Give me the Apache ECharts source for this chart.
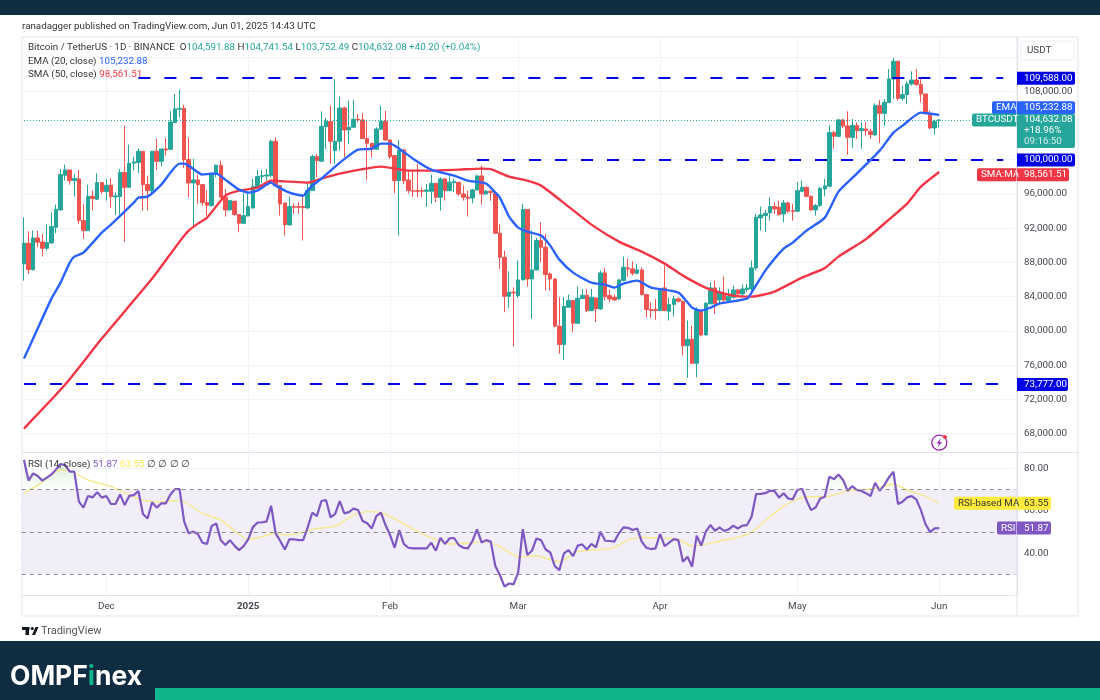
<!DOCTYPE html>
<html>
<head>
<meta charset="utf-8">
<style>
  html, body { margin: 0; padding: 0; background: #fff; }
  #chart-container { width: 1100px; height: 700px; }
</style>
<script src="https://cdn.jsdelivr.net/npm/echarts@6/dist/echarts.min.js"></script>
</head>
<body>
<div id="chart-container"></div>
<script>
// Daily candles from 13 Nov 2024
const opens = [
  87817,90231,87156,90854,90387,89648,90270,92100,94124,98173,
  98796,97550,97745,92878,91710,95720,95370,97316,96265,97005,
  95642,95681,98484,96771,99574,99652,100976,97083,96382,100976,
  99808,101248,101209,104324,105881,105998,100003,97277,97628,97083,
  94981,94630,98407,99341,95604,94124,95136,93579,92567,93423,
  94358,96771,98017,98095,98134,102144,96966,94942,92372,94513,
  94513,94513,94358,96382,100353,99808,103857,104479,101054,102144,
  106037,103467,103779,104713,104635,102455,101910,101209,103545,104479,
  102299,100470,97550,101132,97628,96382,96382,96382,96304,96304,
  97239,95604,97745,96382,97316,97355,95993,95604,95526,96460,
  98095,95993,96304,96070,91399,88596,84042,84509,84120,85949,
  94163,86066,87117,90543,89764,86650,86066,80538,78396,82756,
  83535,80888,83769,84158,82367,83847,82562,86767,84120,83924,
  83730,85871,87351,87234,86728,87117,84236,82484,82484,82367,
  85014,82289,83068,83730,83457,78280,79019,76216,82367,79525,
  83146,85015,83613,84392,83535,83925,84782,84314,84820,84898,
  87351,93190,93463,93774,94514,94436,93657,94942,94046,93969,
  96304,96772,95720,94124,94630,96577,96889,103156,102728,104636,
  103935,102611,103974,103390,103584,103312,102884,106310,105414,106660,
  109424,111487,107166,107594,108840,109307,108762,107672,105414,103701,
  104591.88
];
const closes = [
  90231,87156,90854,90348,89648,90309,92178,94202,98251,98796,
  97550,97784,92878,91710,95720,95448,97316,96265,97005,95681,
  95759,98484,96771,99574,99730,100976,97083,96382,100976,99808,
  101248,101132,104402,105920,105998,100003,97277,97628,97083,94981,
  94669,98407,99341,95604,94124,95214,93579,92567,93462,94513,
  96849,98017,98134,98212,102144,96966,94825,92411,94513,94435,
  94435,94396,96382,100353,99886,103896,104479,102144,102144,106037,
  103467,103779,104713,104635,102455,101910,101209,103584,104479,102299,
  100353,97550,101054,97550,96382,96304,96304,96304,96460,97239,
  95604,97745,96382,97355,97433,95993,95604,95487,96460,98095,
  95993,96304,96148,91399,88596,84042,84509,84431,85949,94163,
  86066,87117,90543,89764,86572,86066,80538,78396,82835,83535,
  80888,83808,84158,82367,83924,82562,86767,84002,83730,83613,
  85949,87428,87234,86728,87117,84236,82484,82367,82367,84898,
  82367,83068,83730,83457,78280,79019,76216,82367,79525,83224,
  85015,83146,84509,83613,84002,84782,84314,84898,85015,87351,
  93268,93541,93735,94514,94241,93579,94942,93969,93930,96382,
  96772,95720,94124,94630,96655,96928,103156,102728,104636,103935,
  102611,103974,103390,103623,103390,102923,106310,105414,106699,109424,
  111487,107166,107594,108840,109307,108762,107672,105414,103701,104441,
  104632.08
];
const lows = [
  85871,86650,87039,89764,88674,89375,90153,91399,94046,97550,
  97083,95681,92489,90737,91710,94046,95292,95993,95214,94358,
  93501,93579,90387,96771,98718,98407,94046,94046,95993,98796,
  99185,100470,101132,104324,104947,99029,95604,92178,94825,94630,
  93462,94513,97939,95604,93345,94046,93462,91516,92489,93345,
  94241,96577,97239,97550,97939,96966,93462,91126,92372,93657,
  93657,90543,94241,96382,97939,99808,101248,99497,99497,101054,
  100275,101832,103779,104363,102416,97628,100275,101132,103545,102221,
  100081,96071,91127,97161,96071,95682,95604,95604,94513,94825,
  95020,94046,95215,96304,96187,95798,95215,93346,94903,96382,
  94747,95915,95215,91321,87234,82173,82679,78163,83847,85949,
  85170,81394,87039,88012,84703,84703,80421,77306,76605,82756,
  79837,80810,83730,82173,82289,81005,82445,83535,83341,83535,
  83652,85793,86338,86455,86572,84120,81589,81511,81277,82289,
  82289,81199,81667,83341,77112,74504,76138,74582,79331,79448,
  83146,81978,83146,83341,83341,83730,83925,84119,84509,84703,
  87039,91711,91516,92879,93657,93463,92684,93735,92879,93852,
  96188,95604,94046,93463,94514,95720,96889,101249,102611,103701,
  100587,101365,102417,101249,102806,102417,102806,101949,103974,106660,
  107088,106894,106894,106504,108645,108645,106699,105259,103584,102923,
  103752.49
];
const highs = [
  93268,91633,91710,91710,91321,92411,93852,94747,98913,99419,
  98796,98329,98796,94825,97083,96382,98407,97316,97706,97862,
  96187,98913,103973,101754,100353,101287,100976,98134,100976,102416,
  101248,102533,105647,107672,108178,106426,102611,100081,98251,97160,
  96382,98407,99419,99886,96577,95214,95214,93657,96071,96071,
  97745,98796,98796,98913,102299,102611,96966,94942,95681,94903,
  95020,95798,97160,100587,100665,105647,104869,106309,109400,107360,
  106192,106893,106971,105336,105414,104635,101910,103779,106309,105725,
  102299,100470,102300,101249,98718,98796,99497,96771,97161,98251,
  97239,97939,97862,98329,97745,97355,96966,96382,96577,98251,
  99302,96460,96382,96148,92411,89375,86961,85092,88207,94825,
  94163,91711,90854,92684,91321,86844,86066,83924,83924,84236,
  83535,85170,84898,84859,84898,83847,87039,87351,84781,84236,
  86066,88674,88401,88129,87817,87428,84314,83341,83730,85014,
  87623,83924,84120,83924,83535,81199,80616,82756,82445,83341,
  85677,85871,85093,86339,84898,85288,84898,85405,85482,88207,
  93657,94514,94124,95604,95020,95214,95292,95098,94825,97356,
  97550,96850,95798,94825,96772,97745,103974,103390,104752,104752,
  105648,104752,104363,104363,104363,103584,106582,106971,107088,110592,
  111877,111565,108645,109152,110319,110592,109619,107672,105725,104636,
  104741.54
];

// Moving averages as [candle index, value], read where the curve could be read
const ema20 = [
  [0,76758],[2,79094],[6,83766],[8,85635],[10,87971],[11,88672],[13,89139],[17,91475],[19,92410],
  [24,94979],[25,95563],[27,95680],[30,97082],[34,99534],[35,99534],[36,99300],[39,98250],[41,98366],
  [42,98366],[44,97666],[47,96498],[49,96147],[51,96381],[54,97315],[55,96965],[58,96147],[61,95797],
  [62,96381],[63,96965],[65,97782],[68,99184],[71,100469],[73,101170],[76,101286],[78,101870],[80,101870],
  [82,101286],[85,100118],[89,98834],[94,98133],[97,97549],[101,97198],[103,96147],[104,95563],[106,93344],
  [108,92059],[110,91592],[113,91125],[115,89957],[117,88322],[120,86803],[124,85635],[127,85401],[129,85051],
  [131,85518],[134,85869],[137,85051],[143,84467],[146,82715],[148,82365],[150,82715],[152,83182],[158,83766],
  [159,84467],[162,87037],[166,89606],[168,90307],[171,91709],[175,93227],[178,96264],[182,98366],[187,101053],
  [190,103155],[192,103973],[196,105491],[198,105374],[200,105232.88]
];
const sma50 = [
  [0,68582],[9,73722],[17,79094],[28,86102],[34,90424],[36,91709],[38,92526],[40,93227],[44,95797],
  [47,96381],[51,96731],[54,97549],[58,97432],[62,97315],[65,97782],[69,98366],[74,98892],[78,99184],
  [84,98717],[89,98717],[95,98834],[100,98950],[102,98892],[106,98016],[110,97549],[113,96965],[119,94512],
  [124,92410],[130,90424],[135,89256],[140,87854],[144,86453],[148,85285],[150,84818],[155,84117],[159,84000],
  [164,84584],[170,86219],[175,87329],[178,88672],[184,90716],[189,92994],[193,94862],[196,96848],[200,98561.51]
];
const rsi14 = [
  83.9,74.2,77.6,76.4,74.2,75.6,77.1,79.5,82,81.5,
  78.4,78.4,64.3,61.5,67,66.3,68.8,66.2,67,63.2,
  63.2,67.7,62.7,67,67.4,69.3,58.5,56.4,64,61.5,
  63.5,63.5,67.7,70.2,70.2,54.9,49.4,50.2,49.1,45,
  44.4,52.8,54.1,46.2,43.9,46.2,43.6,41.5,43.4,46.6,
  52.2,54.4,54.6,54.9,62.4,49.4,45.8,41.8,46.6,46.6,
  46.2,46.2,52.2,59.1,57.5,64.6,65.1,56.9,58.5,64.6,
  58.8,59.4,61,60.4,55.2,54.1,51.7,57.5,59.1,53.3,
  48.6,42.6,50.9,44.4,42.6,42.3,42.3,42.3,42.3,45,
  41.2,47.3,44.4,47,47.2,43.9,42.6,42.3,45.8,51.3,
  45.1,46.2,45.5,34,29.8,24.3,25.8,25.4,31,51.4,
  39.2,41.2,47,46.2,41.8,40.4,34,32.1,40,41.5,
  38.7,43.6,44.2,41.8,44.4,42.8,50.2,45.9,45.8,45.5,
  49.4,52.2,52,51,51.7,45.5,42.6,42,42.3,49.1,
  43.4,45,46.7,46.2,36,38.4,33.7,48.3,43.6,50.2,
  53.3,50.6,52.2,50.5,51.3,53,51.7,53,53.3,57.2,
  67.9,68,68.3,69.4,69.4,66.2,68.3,65.8,65.4,69.8,
  70.4,65,60.3,61.6,65.8,66.6,76,74.9,77.1,74.5,
  69.4,71.6,69.8,69.3,68.3,66.9,73.2,69.4,72.1,75.7,
  78.4,63.2,64.3,66.3,66.9,65.4,60.3,53.8,50,51.7,
  51.87
];
const rsiMa = [
  [0,68.2],[3,72.1],[8,79.2],[10,78.9],[14,74.5],[19,71.5],[22,68.5],[26,65],[30,64.3],[34,64.9],
  [39,58.8],[43,55.7],[46,50.5],[49,46.6],[52,47.8],[55,49.7],[57,48.6],[60,49.4],[64,51.7],[68,52.8],
  [72,58],[75,59.6],[78,59.1],[82,55.2],[86,50.2],[89,47.3],[93,44.4],[97,44.7],[101,45.5],[104,43.1],
  [108,38.4],[112,38.7],[117,36],[121,40.8],[126,41.8],[129,42.8],[132,46.2],[135,47.5],[139,47.3],[143,46.6],
  [146,43.4],[150,44.7],[153,46.2],[156,47.5],[159,49.9],[163,57.2],[167,63.5],[171,66.6],[175,66.6],[180,69.4],
  [186,70.5],[190,72.6],[193,69.8],[197,66.9],[200,63.55]
];

// Horizontal levels and axis ticks
const levelPrices = [109588, 100000, 73777];
const levelStarts = [25, 99, 0];
const priceTicks = [68000,72000,76000,80000,84000,88000,92000,96000,100000,104000,108000,112000];
const rsiTicks = [40, 60, 80];
const rsiBands = [70, 50, 30];
const monthTicks = [18, 49, 80, 108, 139, 169, 200];
const monthNames = ['Dec', '2025', 'Feb', 'Mar', 'Apr', 'May', 'Jun'];

const lastPrice = 104632.08, lastEma = 105232.88, lastSma = 98561.51, lastRsi = 51.87, lastRsiMa = 63.55;

// One category per day, the chart runs 16 days past the last candle
const dates = [];
for (let i = 0; i < 217; i++) {
    dates.push(new Date(Date.UTC(2024, 10, 13 + i)).toISOString().slice(0, 10));
}

const UP = '#26a69a', DOWN = '#ef5350', BLUE = '#2962ff', LEVEL = '#0000e6', RED = '#f23645';
const PURPLE = '#7e57c2', YELLOW = '#ffeb3b', GRID = '#f0f3fa', EDGE = '#e0e3eb', TEXT = '#434651';
const FONT = 'Roboto';
const SIZE = 9.8;

const container = echarts.init(document.getElementById('chart-container'));

const isMonth = (i) => monthTicks.includes(i);
const splitX = { show: true, alignWithLabel: true, interval: (i) => isMonth(i), lineStyle: { color: GRID } };

const candles = opens.map((o, i) => [o, closes[i], lows[i], highs[i]]);

const cfg = {
    animation: false,
    backgroundColor: '#fff',
    grid: [
        { left: 21.7, top: 37, width: 993, height: 415 },
        { left: 21.7, top: 453, width: 993, height: 142 }
    ],
    xAxis: [
        {
            type: 'category', gridIndex: 0, data: dates,
            axisLine: { show: false }, axisTick: { show: false }, axisLabel: { show: false },
            splitLine: splitX
        },
        {
            type: 'category', gridIndex: 1, data: dates,
            axisLine: { lineStyle: { color: EDGE } }, axisTick: { show: false },
            axisLabel: {
                interval: (i) => isMonth(i),
                formatter: (v, i) => monthNames[monthTicks.indexOf(i)] === '2025' ? '{b|2025}' : monthNames[monthTicks.indexOf(i)],
                color: TEXT, fontFamily: FONT, fontSize: SIZE, margin: 7,
                rich: { b: { fontWeight: 'bold', color: TEXT, fontFamily: FONT, fontSize: SIZE } }
            },
            splitLine: splitX
        }
    ],
    yAxis: [
        {
            type: 'value', gridIndex: 0, position: 'right', offset: 2.3, min: 65846, max: 114327,
            axisLine: { show: true, lineStyle: { color: EDGE } },
            axisTick: { show: false, customValues: priceTicks },
            axisLabel: {
                customValues: priceTicks, color: TEXT, fontFamily: FONT, fontSize: SIZE, margin: 7,
                formatter: (v) => v.toLocaleString('en-US', { minimumFractionDigits: 2 })
            },
            splitLine: { show: true, lineStyle: { color: GRID } }
        },
        {
            type: 'value', gridIndex: 1, position: 'right', offset: 2.3, min: 20.38, max: 87.2,
            axisLine: { show: true, lineStyle: { color: EDGE } },
            axisTick: { show: false, customValues: rsiTicks },
            axisLabel: {
                customValues: rsiTicks, color: TEXT, fontFamily: FONT, fontSize: SIZE, margin: 7,
                formatter: (v) => v.toFixed(2)
            },
            splitLine: { show: true, lineStyle: { color: GRID } }
        }
    ],
    series: [
        {
            type: 'candlestick', name: 'BTCUSDT', xAxisIndex: 0, yAxisIndex: 0, data: candles, barWidth: 4, z: 3,
            itemStyle: { color: UP, color0: DOWN, borderColor: UP, borderColor0: DOWN, borderWidth: 1 },
            markLine: {
                silent: true, symbol: 'none', animation: false, label: { show: false },
                lineStyle: { color: UP, type: [1, 2], width: 1 },
                data: [[{ coord: [0, lastPrice] }, { coord: [216, lastPrice] }]]
            }
        },
        {
            type: 'line', name: 'EMA', xAxisIndex: 0, yAxisIndex: 0, data: ema20, showSymbol: false, smooth: 0.2, z: 5,
            lineStyle: { color: BLUE, width: 2.4 }, itemStyle: { color: BLUE }
        },
        {
            type: 'line', name: 'SMA', xAxisIndex: 0, yAxisIndex: 0, data: sma50, showSymbol: false, smooth: 0.2, z: 4,
            lineStyle: { color: RED, width: 2.4 }, itemStyle: { color: RED }
        },
        {
            // Dashed levels drawn on the chart by the author
            type: 'line', name: 'Levels', xAxisIndex: 0, yAxisIndex: 0, data: [], z: 6,
            markLine: {
                silent: true, symbol: 'none', animation: false, label: { show: false },
                lineStyle: { color: LEVEL, type: [12, 14], width: 2 },
                data: levelPrices.map((p, i) => [{ coord: [levelStarts[i], p] }, { coord: [214, p] }])
            }
        },
        {
            // Green wash where RSI sits above 70
            type: 'line', name: 'Overbought', xAxisIndex: 1, yAxisIndex: 1,
            data: rsi14.map((v) => Math.max(v, 70)), showSymbol: false, z: 2,
            lineStyle: { width: 0 },
            areaStyle: {
                origin: 70,
                color: new echarts.graphic.LinearGradient(0, 0, 0, 1, [
                    { offset: 0, color: 'rgba(76,175,80,0.35)' },
                    { offset: 1, color: 'rgba(76,175,80,0)' }
                ])
            }
        },
        {
            type: 'line', name: 'RSI-based MA', xAxisIndex: 1, yAxisIndex: 1, data: rsiMa, showSymbol: false, smooth: 0.2, z: 3,
            lineStyle: { color: '#f7e98e', width: 1.4 }, itemStyle: { color: '#f7e98e' }
        },
        {
            type: 'line', name: 'RSI', xAxisIndex: 1, yAxisIndex: 1, data: rsi14, showSymbol: false, z: 4,
            lineStyle: { color: PURPLE, width: 2.2 }, itemStyle: { color: PURPLE },
            markLine: {
                silent: true, symbol: 'none', animation: false, label: { show: false },
                lineStyle: { color: '#888b94', type: [4, 4], width: 1 },
                data: rsiBands.map((v) => ({ yAxis: v }))
            }
        }
    ]
};
container.setOption(cfg);

// Labels, price tags and the page furniture around the chart
const py = (v) => container.convertToPixel({ yAxisIndex: 0 }, v);
const ry = (v) => container.convertToPixel({ yAxisIndex: 1 }, v);
const fmt = (v) => v.toLocaleString('en-US', { minimumFractionDigits: 2, maximumFractionDigits: 2 });

const rect = (x, y, width, height, fill, r, z) => ({
    type: 'rect', silent: true, z: z === undefined ? 20 : z,
    shape: { x, y, width, height, r: r || 0 }, style: { fill }
});
const label = (x, y, text, fill, size, align, weight) => ({
    type: 'text', silent: true, z: 21, x, y,
    style: {
        text, fill, textAlign: align || 'left', textVerticalAlign: 'middle',
        font: (weight || 'normal') + ' ' + (size || SIZE) + 'px ' + FONT
    }
});
const tag = (cy, right, value, fill, color) => [
    rect(1017, cy - 6.5, right - 1017, 13, fill, [0, 2, 2, 0]),
    label(1024, cy, value, color || '#fff')
];
const nameTag = (cy, left, name, fill, color) => [
    rect(left, cy - 6.5, 1016.4 - left, 13, fill, [2, 0, 0, 2]),
    label(left + 4, cy, name, color || '#fff')
];
const rich = (x, y, text, styles) => ({
    type: 'text', silent: true, z: 21, x, y,
    style: { text, rich: styles, textVerticalAlign: 'middle', font: SIZE + 'px ' + FONT, fill: TEXT }
});
const part = (fill) => ({ fill, font: SIZE + 'px ' + FONT });

const priceY = py(lastPrice);
const graphics = [
    // band behind RSI
    rect(22, ry(70), 995, ry(30) - ry(70), 'rgba(126,87,194,0.1)', 0, -1),
    // dark page bands
    rect(0, 0, 1100, 15, '#0f2c40'),
    rect(0, 641, 1100, 59, '#0f2c40'),
    rect(155, 688, 945, 12, '#12b48c'),
    {
        type: 'text', silent: true, z: 21, x: 10, y: 677,
        style: {
            text: '{a|OMPF}{b|i}{a|nex}', textVerticalAlign: 'middle', font: 'bold 26.5px Inter',
            rich: {
                a: { fill: '#fff', font: 'bold 26.5px Inter' },
                b: { fill: '#12b48c', font: 'bold 26.5px Inter' }
            }
        }
    },
    // frame and pane divider
    {
        type: 'rect', silent: true, z: 1, shape: { x: 22, y: 37, width: 1056, height: 579 },
        style: { fill: 'none', stroke: EDGE, lineWidth: 1 }
    },
    { type: 'line', silent: true, z: 1, shape: { x1: 22, y1: 452.5, x2: 1078, y2: 452.5 }, style: { stroke: EDGE } },
    { type: 'line', silent: true, z: 1, shape: { x1: 1017, y1: 37, x2: 1017, y2: 616 }, style: { stroke: EDGE } },
    label(22, 27, 'ranadagger published on TradingView.com, Jun 01, 2025 14:43 UTC', '#333'),
    rich(28, 48, '{t|Bitcoin / TetherUS · 1D · BINANCE}  {t|O}{v|104,591.88} {t|H}{v|104,741.54} {t|L}{v|103,752.49} {t|C}{v|104,632.08} {v|+40.20 (+0.04%)}',
        { t: part('#333'), v: part(UP) }),
    rich(28, 62, '{t|EMA (20, close)} {b|' + fmt(lastEma) + '}', { t: part('#333'), b: part(BLUE) }),
    rich(28, 75, '{t|SMA (50, close)} {r|' + fmt(lastSma) + '}', { t: part('#333'), r: part(RED) }),
    rich(28, 465, '{t|RSI (14, close)} {p|' + lastRsi + '} {y|' + lastRsiMa + '} {t|∅ ∅ ∅ ∅}',
        { t: part('#333'), p: part(PURPLE), y: part('#ffe94a') }),
    // USDT button hides the top tick label
    {
        type: 'rect', silent: true, z: 20, shape: { x: 1021, y: 41, width: 53, height: 19, r: 3 },
        style: { fill: '#fff', stroke: '#eceef3' }
    },
    label(1027, 51, 'USDT', TEXT),
    // alert icon
    { type: 'circle', silent: true, z: 21, shape: { cx: 939.3, cy: 442.7, r: 7.5 }, style: { fill: '#fff', stroke: '#9c27b0', lineWidth: 1.3 } },
    { type: 'polygon', silent: true, z: 22, shape: { points: [[941, 438], [936.5, 443.5], [939, 443.5], [937.5, 447.5], [942, 442], [939.5, 442]] }, style: { fill: '#9c27b0' } },
    { type: 'circle', silent: true, z: 22, shape: { cx: 945, cy: 437, r: 2 }, style: { fill: RED } },
    // TradingView mark
    rect(22, 627, 7.5, 3, '#131722'),
    rect(25.5, 627, 3.5, 8, '#131722'),
    { type: 'circle', silent: true, z: 21, shape: { cx: 32.3, cy: 628.5, r: 1.6 }, style: { fill: '#131722' } },
    { type: 'polygon', silent: true, z: 21, shape: { points: [[32, 635], [35.5, 627], [38.5, 627], [35, 635]] }, style: { fill: '#131722' } },
    label(41, 631, 'TradingView', '#555', 11),
    // price tags
    ...tag(py(levelPrices[0]) + 0.8, 1075, fmt(levelPrices[0]), LEVEL),
    ...tag(py(lastEma) - 7, 1075, fmt(lastEma), BLUE),
    ...nameTag(py(lastEma) - 7, 992, 'EMA', BLUE),
    rect(1017, priceY - 6, 58, 34, UP, [0, 2, 2, 0]),
    label(1024, priceY, fmt(lastPrice), '#fff'),
    label(1024, priceY + 11, '+18.96%', '#fff'),
    label(1024, priceY + 22, '09:16:50', '#d5efec'),
    ...nameTag(priceY, 972, 'BTCUSDT', UP),
    ...tag(py(levelPrices[1]) + 0.4, 1075, fmt(levelPrices[1]), LEVEL),
    ...tag(py(lastSma) + 2.7, 1069, fmt(lastSma), RED),
    ...nameTag(py(lastSma) + 2.7, 977, 'SMA:MA', RED),
    ...tag(py(levelPrices[2]) + 0.5, 1068, fmt(levelPrices[2]), LEVEL),
    ...tag(ry(lastRsiMa), 1051, lastRsiMa.toFixed(2), YELLOW, '#333'),
    ...nameTag(ry(lastRsiMa), 954, 'RSI-based MA', YELLOW, '#333'),
    ...tag(ry(lastRsi), 1051, lastRsi.toFixed(2), PURPLE),
    ...nameTag(ry(lastRsi), 997, 'RSI', PURPLE)
];
container.setOption({ graphic: graphics });
</script>
</body>
</html>
